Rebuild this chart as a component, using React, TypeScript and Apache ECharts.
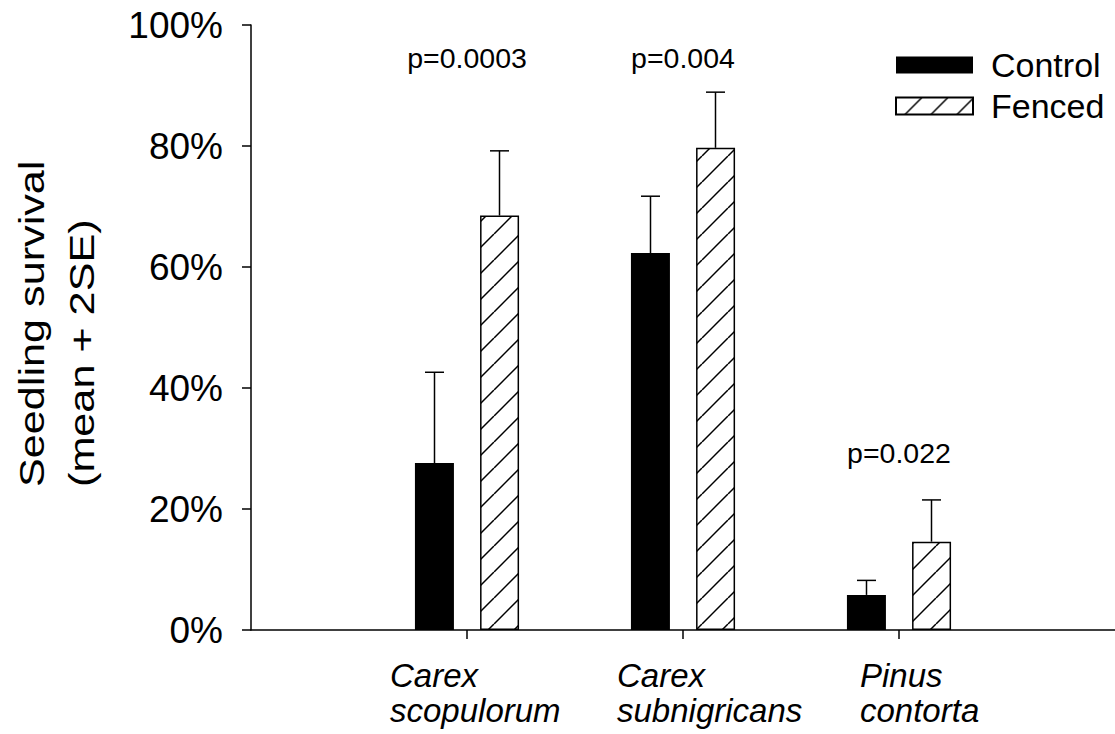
import React, { useEffect, useRef } from "react";
import * as echarts from "echarts";

const categories = ["Carex\nscopulorum", "Carex\nsubnigricans", "Pinus\ncontorta"];
const seriesNames = ["Control", "Fenced"];
const controlMean = [27.6, 62.3, 5.8];
const controlUpper = [42.6, 71.7, 8.2];
const fencedMean = [68.5, 79.7, 14.6];
const fencedUpper = [79.2, 88.9, 21.5];
const pLabels = ["p=0.0003", "p=0.004", "p=0.022"];
const yTicks = [0, 20, 40, 60, 80, 100];

// layout only
const pLabelLevel = [94.6, 94.6, 29.3];
const catLabelOffset = [-77, -66, -39];
const FONT = '"Liberation Sans", Arial, Helvetica, sans-serif';

function makeHatch(): HTMLCanvasElement {
  const s = 26;
  const c = document.createElement("canvas");
  c.width = s;
  c.height = s;
  const ctx = c.getContext("2d")!;
  ctx.fillStyle = "#fff";
  ctx.fillRect(0, 0, s, s);
  ctx.strokeStyle = "#000";
  ctx.lineWidth = 1.5;
  for (const x0 of [-s, 0, s]) {
    ctx.beginPath();
    ctx.moveTo(x0, s);
    ctx.lineTo(x0 + s, 0);
    ctx.stroke();
  }
  return c;
}

export default function App() {
  const ref = useRef<HTMLDivElement>(null);
  useEffect(() => {
    const chart = echarts.init(ref.current!, null, { renderer: "svg" });
    const hatch = makeHatch();
    const hatchPattern: any = { image: hatch, repeat: "repeat", imageWidth: 26, imageHeight: 26 };
    const xData = ["", ...categories, ""];
    const idx = categories.map((_, i) => i + 1);
    const barW = 39;
    const half = 32.5;

    const errSeries = (mean: number[], upper: number[], off: number) => ({
      type: "custom",
      z: 5,
      clip: false,
      data: idx.map((k, i) => [k, mean[i], upper[i]]),
      renderItem: (params: any, api: any) => {
        const b = api.coord([api.value(0), api.value(1)]);
        const t = api.coord([api.value(0), api.value(2)]);
        const cx = b[0] + off;
        const st = { stroke: "#000", lineWidth: 1.5 };
        return {
          type: "group",
          children: [
            { type: "line", shape: { x1: cx, y1: b[1], x2: cx, y2: t[1] }, style: st },
            { type: "line", shape: { x1: cx - 9.5, y1: t[1], x2: cx + 9.5, y2: t[1] }, style: st },
          ],
        };
      },
    });

    chart.setOption({
      animation: false,
      textStyle: { fontFamily: FONT, color: "#000" },
      grid: { left: 251, right: -3, top: 25, bottom: 104, containLabel: false },
      legend: {
        orient: "vertical",
        left: 895,
        top: 48,
        padding: 0,
        itemWidth: 77,
        itemHeight: 17,
        itemGap: 7,
        icon: "rect",
        data: seriesNames,
        textStyle: { fontSize: 34, color: "#000", fontFamily: FONT, padding: [0, 0, 0, 13] },
      },
      xAxis: {
        type: "category",
        data: xData,
        boundaryGap: false,
        axisLine: { lineStyle: { color: "#000", width: 1.5 } },
        axisTick: {
          show: true,
          length: 9,
          lineStyle: { color: "#000", width: 1.5 },
          interval: (i: number) => i > 0 && i < xData.length - 1,
        },
        axisLabel: { show: false },
        splitLine: { show: false },
      },
      yAxis: {
        type: "value",
        min: yTicks[0],
        max: yTicks[yTicks.length - 1],
        interval: 20,
        axisLine: { show: true, lineStyle: { color: "#000", width: 1.5 } },
        axisTick: { show: true, length: 9, lineStyle: { color: "#000", width: 1.5 } },
        axisLabel: { formatter: "{value}%", fontSize: 37, color: "#000", margin: 28, fontFamily: FONT },
        splitLine: { show: false },
      },
      series: [
        {
          name: seriesNames[0],
          type: "bar",
          barWidth: barW,
          barGap: "67%",
          data: idx.map((k, i) => [k, controlMean[i]]),
          itemStyle: { color: "#000" },
        },
        {
          name: seriesNames[1],
          type: "bar",
          barWidth: barW,
          barGap: "67%",
          data: idx.map((k, i) => [k, fencedMean[i]]),
          itemStyle: { color: hatchPattern, borderColor: "#000", borderWidth: 1.5 },
        },
        errSeries(controlMean, controlUpper, -half),
        errSeries(fencedMean, fencedUpper, half),
        {
          type: "custom",
          clip: false,
          silent: true,
          data: idx.map((k, i) => [k, pLabelLevel[i]]),
          renderItem: (params: any, api: any) => {
            const p = api.coord([api.value(0), api.value(1)]);
            return {
              type: "text",
              x: p[0],
              y: p[1],
              style: {
                text: pLabels[params.dataIndex],
                fontSize: 28.5,
                fontFamily: FONT,
                fill: "#000",
                align: "center",
                verticalAlign: "middle",
              },
            };
          },
        },
        {
          type: "custom",
          clip: false,
          silent: true,
          data: idx.map((k) => [k, 0]),
          renderItem: (params: any, api: any) => {
            const p = api.coord([api.value(0), api.value(1)]);
            return {
              type: "text",
              x: p[0] + catLabelOffset[params.dataIndex],
              y: p[1] + 28,
              style: {
                text: categories[params.dataIndex],
                fontSize: 33,
                fontStyle: "italic",
                fontFamily: FONT,
                lineHeight: 35,
                fill: "#000",
                align: "left",
                verticalAlign: "top",
              },
            };
          },
        },
      ],
      graphic: [
        {
          type: "text",
          x: 31,
          y: 487,
          rotation: Math.PI / 2,
          scaleX: 1.2,
          style: { text: "Seedling survival", fontSize: 36, fontFamily: FONT, fill: "#000", align: "left", verticalAlign: "middle" },
        },
        {
          type: "text",
          x: 81,
          y: 487,
          rotation: Math.PI / 2,
          scaleX: 1.2,
          style: { text: "(mean + 2SE)", fontSize: 36, fontFamily: FONT, fill: "#000", align: "left", verticalAlign: "middle" },
        },
      ],
    });
    return () => chart.dispose();
  }, []);
  return (
    <div
      ref={ref}
      style={{ position: "absolute", left: 0, top: 0, width: 1115, height: 734 }}
    />
  );
}
